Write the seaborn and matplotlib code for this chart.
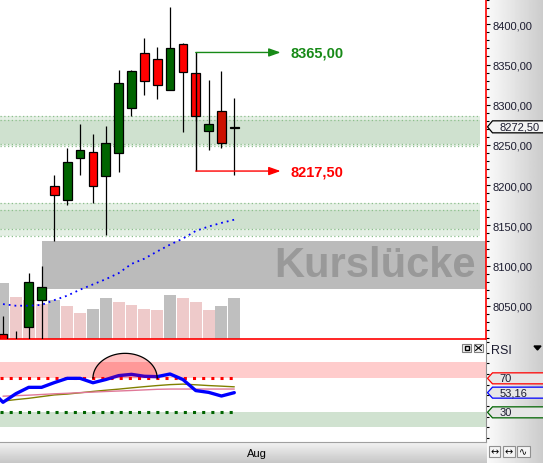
import numpy as np
import matplotlib
matplotlib.use("Agg")
import matplotlib.pyplot as plt
import seaborn as sns
from matplotlib.patches import Polygon, Rectangle
from matplotlib.lines import Line2D
from matplotlib.ticker import MultipleLocator, FuncFormatter

sns.set_style("white")
plt.rcParams['font.family'] = ['Liberation Sans', 'DejaVu Sans']

# ---- data ----
bars = list(range(19))
opens = [8014.5, 8000, 8024, 8057, 8198.5, 8182, 8234, 8241, 8211.5, 8239.5,
         8295.5, 8364, 8356.5, 8318, 8375, 8339, 8267, 8292, 8270.5]
closes = [8000, 8005, 8079, 8073, 8188, 8228.5, 8243.5, 8199.5, 8252, 8326.5,
          8341.5, 8329, 8324, 8370, 8340.5, 8285.5, 8275.5, 8252.5, 8272.5]
highs = [8037, 8018.5, 8090.5, 8100, 8212.5, 8246, 8276, 8263.5, 8273.5, 8343,
         8343, 8383, 8371.5, 8421.5, 8376.5, 8339, 8330.5, 8342, 8308.5]
lows = [7990, 7985, 8000, 8000, 8131, 8175.5, 8213, 8177.5, 8138.5, 8216.5,
        8286.5, 8312.5, 8307.5, 8318, 8266.5, 8280, 8244, 8246.5, 8213]
candle_colors = ['#ff0000', '#006400', '#006400', '#006400', '#ff0000', '#006400',
                 '#006400', '#ff0000', '#006400', '#006400', '#006400', '#ff0000',
                 '#ff0000', '#006400', '#ff0000', '#ff0000', '#006400', '#cc1100',
                 '#006400']
ma = [8052, 8050, 8050, 8051, 8057, 8062.5, 8070, 8076.5, 8083, 8090.5, 8102,
      8108.5, 8117.5, 8126, 8133.5, 8143, 8148.5, 8153, 8157]
volumes = [56, 42, 39, 35, 39, 33, 26, 30, 41, 37, 34, 30, 29, 44, 41, 37, 29, 33, 41]
vol_kind = ['g', 'p', 'p', 'p', 'g', 'p', 'p', 'g', 'g', 'p', 'p', 'p', 'p', 'g',
            'p', 'p', 'p', 'g', 'g']

# support zones: outer low, inner low, inner high, outer high
zones = [(8248.3, 8251.5, 8281.0, 8285.6), (8136.3, 8145.4, 8169.0, 8177.7)]
gap_start, gap_lo, gap_hi = 3, 8070.8, 8130.5
gap_label = 'Kurslücke'
bracket_bar = 15
target_up, target_dn = 8365.0, 8217.5
last_price = 8272.5

rsi_bars = list(range(-1, 19))
rsi = [57, 41.8, 51.9, 59.4, 59.4, 65, 70, 70, 64.8, 68.6, 73.2, 74.7, 72.4, 72,
       75.1, 68.6, 55.6, 53.5, 49.2, 53.16]
rsi_ma_slow = [43.2, 45, 46.5, 48.5, 50.5, 51.5, 53, 54.6, 56, 57.3, 58.8, 60.2,
               61.5, 62.6, 63.2, 62.4, 61.5, 60.8, 60]
rsi_ma_fast = [49, 49.6, 50.2, 51, 51.8, 52.4, 53.2, 53.8, 54.5, 55.1, 55.7, 56.4,
               57.1, 57.4, 57.4, 57.4, 57.4, 57.4, 57.4]
rsi_hi, rsi_lo = 70, 30
month_ticks, month_labels = [19], ['Aug']

# ---- layout ----
W, H = 543, 464
fig = plt.figure(figsize=(W / 100, H / 100), dpi=100)
fig.patch.set_facecolor('white')


def frac(x0, y0, x1, y1):
    return [x0 / W, 1 - y1 / H, (x1 - x0) / W, (y1 - y0) / H]


XLIM = (-0.2335, 37.588)
txt_col = '#1c1c30'

# grey gradients of the scale strip and the bottom bar
bg_r = fig.add_axes(frac(487, 0, 543, 464), zorder=-2)
bg_r.imshow(np.linspace(0.98, 0.80, 60)[None, :], aspect='auto', cmap='gray',
            vmin=0, vmax=1, extent=(0, 1, 0, 1))
bg_r.axis('off')
bg_b = fig.add_axes(frac(0, 444, 487, 464), zorder=-2)
bg_b.imshow(np.linspace(0.94, 0.78, 20)[:, None], aspect='auto', cmap='gray',
            vmin=0, vmax=1, extent=(0, 1, 0, 1))
bg_b.axis('off')

# volume panel (behind the candles)
ax_v = fig.add_axes(frac(0, 0, 486, 340), zorder=1)
ax_v.bar(bars, volumes, width=0.93,
         color=['#bfbfbf' if k == 'g' else '#eecaca' for k in vol_kind], lw=0)
ax_v.set_xlim(XLIM)
ax_v.set_ylim(0, 340)
ax_v.axis('off')

# price panel
ax = fig.add_axes(frac(0, 0, 486, 340), zorder=2)
ax.patch.set_alpha(0)
ax.set_xlim(XLIM)
ax.set_ylim(8008.6, 8431.5)

for lo_o, lo_i, hi_i, hi_o in zones:
    ax.axhspan(lo_o, hi_o, xmax=0.9877, color='#e4efe4', lw=0, zorder=0)
    ax.axhspan(lo_i, hi_i, xmax=0.9877, color='#cfe1cf', lw=0, zorder=0.5)
    for yv in (lo_o, lo_i, hi_i, hi_o):
        ax.axhline(yv, xmax=0.9877, color='#8cbf8c', lw=0.9, ls=(0, (1, 2)), zorder=1)

ax.axhspan(gap_lo, gap_hi, xmin=(gap_start - XLIM[0]) / (XLIM[1] - XLIM[0]),
           color='#bbbbbb', lw=0, zorder=2)
ax.text(0.979, (gap_lo + gap_hi) / 2, gap_label, transform=ax.get_yaxis_transform(),
        ha='right', va='center', fontsize=30, fontweight='bold', color='#999999', zorder=3)

o, c = np.array(opens), np.array(closes)
body_lo, body_hi = np.minimum(o, c), np.maximum(o, c)
ax.vlines(bars, lows, highs, color='black', lw=0.9, zorder=4)
ax.bar(bars, body_hi - body_lo, bottom=body_lo, width=0.68, color=candle_colors,
       edgecolor='black', linewidth=0.9, zorder=5)

sns.lineplot(x=bars, y=ma, ax=ax, color='#0000ff', lw=1.3, linestyle=(0, (1, 2.2)), zorder=6)

# target bracket
green, red = '#178a17', '#ff0000'
tip_x, label_x = 21.6, 22.4
ax.vlines(bracket_bar, target_dn, target_up, color='black', lw=1, zorder=6)
for level, col in [(target_up, green), (target_dn, red)]:
    ax.annotate('', xy=(tip_x, level), xytext=(bracket_bar, level),
                arrowprops=dict(arrowstyle='-|>,head_length=0.7,head_width=0.25',
                                color=col, lw=1, mutation_scale=10, shrinkA=0, shrinkB=0),
                zorder=6)
    ax.text(label_x, level, f"{level:.2f}".replace('.', ','), color=col, fontsize=10.5,
            fontweight='bold', va='center', ha='left', zorder=6)

ax.yaxis.tick_right()
ax.yaxis.set_major_locator(MultipleLocator(50))
ax.yaxis.set_minor_locator(MultipleLocator(10))
ax.yaxis.set_major_formatter(FuncFormatter(lambda v, _: f"{v:.2f}".replace('.', ',')))
ax.tick_params(axis='y', which='major', length=3, width=0.8, pad=2, labelsize=8,
               colors='black', labelcolor=txt_col)
ax.tick_params(axis='y', which='minor', length=2, width=0.8, colors='black')
ax.set_xticks([])
for s in ('top', 'left'):
    ax.spines[s].set_visible(False)
for s in ('right', 'bottom'):
    ax.spines[s].set_color('#ff0000')
    ax.spines[s].set_linewidth(1.2)

# RSI panel
ax_r = fig.add_axes(frac(0, 341, 486, 443), zorder=2)
ax_r.set_xlim(XLIM)
ax_r.set_ylim(-4.9, 115.1)
ax_r.axhspan(rsi_hi, 89.5, color='#ffcccc', lw=0, zorder=0)
ax_r.axhspan(13, rsi_lo, color='#d0e2d0', lw=0, zorder=0)
ax_r.plot([XLIM[0], bars[-1]], [rsi_hi, rsi_hi], color='#ff0000', lw=2.2, ls=(0, (1, 2)), zorder=2)
ax_r.plot([XLIM[0], bars[-1]], [rsi_lo, rsi_lo], color='#006400', lw=2.2, ls=(0, (1, 2)), zorder=2)
sns.lineplot(x=bars, y=rsi_ma_slow, ax=ax_r, color='#808000', lw=1, zorder=3)
sns.lineplot(x=bars, y=rsi_ma_fast, ax=ax_r, color='#e07898', lw=1, zorder=3)
sns.lineplot(x=rsi_bars, y=rsi, ax=ax_r, color='#0000ff', lw=2.4, zorder=4)

# overbought half-circle marker
semi_center, semi_half, semi_height = 9.5, 2.5, 29.4
t = np.linspace(0, np.pi, 80)
sx = semi_center + semi_half * np.cos(t)
sy = rsi_hi + semi_height * np.sin(t)
ax_r.fill(sx, sy, color='#ff0000', alpha=0.25, lw=0, zorder=5)
ax_r.plot(sx, sy, color='black', lw=0.9, zorder=5)

ax_r.yaxis.tick_right()
ax_r.set_yticks(np.arange(0, 113, 12.5))
ax_r.set_yticklabels([])
ax_r.tick_params(axis='y', length=2, width=0.8, colors='black')
ax_r.set_xticks(month_ticks)
ax_r.set_xticklabels(month_labels, ha='left', fontsize=8, color=txt_col)
ax_r.tick_params(axis='x', length=3, width=0.8, pad=1.5, colors='black')
ax_r.set_xlabel('')
ax_r.set_ylabel('')
ax.set_xlabel('')
ax.set_ylabel('')
for s in ('top', 'left'):
    ax_r.spines[s].set_visible(False)
ax_r.spines['right'].set_color('#909090')
ax_r.spines['bottom'].set_color('#a0a0a0')


def tag(axis, value, label, edge, face, half_px):
    pos = axis.get_position()
    wpx, hpx = pos.width * W, pos.height * H
    y0, y1 = axis.get_ylim()
    yf = (value - y0) / (y1 - y0)
    dy = half_px / hpx
    pts = [(1 + 1.5 / wpx, yf), (1 + 6.5 / wpx, yf + dy), (1 + 70 / wpx, yf + dy),
           (1 + 70 / wpx, yf - dy), (1 + 6.5 / wpx, yf - dy)]
    axis.add_patch(Polygon(pts, closed=True, transform=axis.transAxes, clip_on=False,
                           facecolor=face, edgecolor=edge, lw=0.9, zorder=10))
    axis.text(1 + 13.5 / wpx, yf, label, transform=axis.transAxes, ha='left',
              va='center', fontsize=8, color=txt_col, clip_on=False, zorder=11)


tag(ax, last_price, f"{last_price:.2f}".replace('.', ','), 'black', '#f2f2f2', 6)
tag(ax_r, rsi_hi, '70', '#ff0000', '#e6e6e6', 5.5)
tag(ax_r, rsi[-1], f"{rsi[-1]:.2f}".replace('.', ','), '#0000ff', '#e6e6e6', 5.5)
tag(ax_r, rsi_lo, '30', '#006400', '#e6e6e6', 5.5)


# window chrome
def px_rect(x0, y0, x1, y1, **kw):
    fig.add_artist(Rectangle((x0 / W, 1 - y1 / H), (x1 - x0) / W, (y1 - y0) / H,
                             transform=fig.transFigure, zorder=5, **kw))


def px_line(xs, ys, **kw):
    fig.add_artist(Line2D([x / W for x in xs], [1 - y / H for y in ys],
                          transform=fig.transFigure, zorder=6, **kw))


px_rect(462, 345, 471, 353, facecolor='#f0f0f0', edgecolor='#808080', lw=0.8)
px_rect(464.5, 347, 468.5, 351, facecolor='none', edgecolor='black', lw=1.0)
px_rect(474, 345, 483, 353, facecolor='#f0f0f0', edgecolor='#808080', lw=0.8)
px_line([475.5, 481.5], [346.5, 351.5], color='black', lw=0.8)
px_line([475.5, 481.5], [351.5, 346.5], color='black', lw=0.8)
fig.text(491.5 / W, 1 - 351 / H, 'RSI', fontsize=9, va='center', ha='left', color=txt_col)
fig.add_artist(Polygon([(534 / W, 1 - 347 / H), (541 / W, 1 - 347 / H), (537.5 / W, 1 - 351 / H)],
                       closed=True, transform=fig.transFigure, color='black', zorder=6))
for (x0, x1), sym in zip([(489, 500), (503, 515), (517, 530)], ['↔', '↔', '∿']):
    px_rect(x0, 447, x1, 458, facecolor='#f4f4f4', edgecolor='#909090', lw=0.8)
    fig.text((x0 + x1) / 2 / W, 1 - 452.5 / H, sym, fontsize=7, ha='center', va='center',
             color='black', family='DejaVu Sans', zorder=7)

fig.savefig('out.png', dpi=100)
